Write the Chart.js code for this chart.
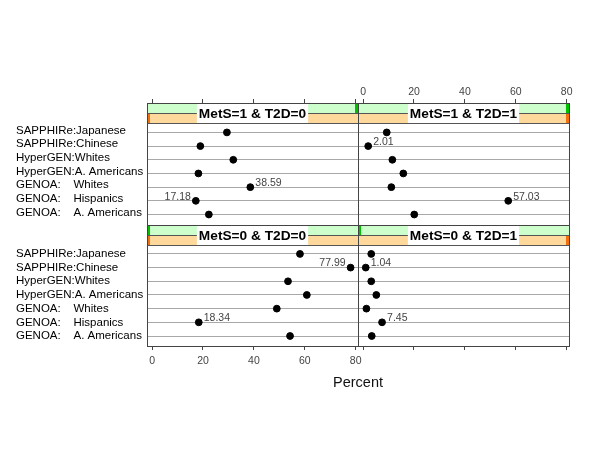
<!DOCTYPE html>
<html>
<head>
<meta charset="utf-8">
<title>MetS / T2D by cohort</title>
<script src="https://cdn.jsdelivr.net/npm/chart.js@4.4.1/dist/chart.umd.min.js"></script>
<style>
  html, body { margin: 0; padding: 0; background: #fff; }
</style>
</head>
<body>
<canvas id="dotplot" width="600" height="450"></canvas>
<script>
// Row labels, top to bottom
const groups = [
    'SAPPHIRe:Japanese',
    'SAPPHIRe:Chinese',
    'HyperGEN:Whites',
    'HyperGEN:A. Americans',
    'GENOA:    Whites',
    'GENOA:    Hispanics',
    'GENOA:    A. Americans'
];

// Percent in each panel, same row order as above
const metS1T2D0 = [29.4, 18.96, 31.9, 18.2, 38.59, 17.18, 22.3];
const metS1T2D1 = [9.3, 2.01, 11.5, 15.8, 11.1, 57.03, 20.1];
const metS0T2D0 = [58.1, 77.99, 53.4, 60.8, 49.0, 18.34, 54.2];
const metS0T2D1 = [3.2, 1.04, 3.2, 5.2, 1.31, 7.45, 3.4];

const xTicks = [0, 20, 40, 60, 80];

// panel order: top-left, top-right, bottom-left, bottom-right
const panelMetS = [1, 1, 0, 0];
const panelT2D = [0, 1, 0, 1];
const panelValues = [metS1T2D0, metS1T2D1, metS0T2D0, metS0T2D1];

// points that get their value printed: [panel, row, side]
const labelled = [
    [0, 4, 'right'], [0, 5, 'left'],
    [1, 1, 'right'], [1, 5, 'right'],
    [2, 1, 'left'], [2, 5, 'right'],
    [3, 1, 'right'], [3, 5, 'right']
];

const FONT = 'Arial, "Liberation Sans", sans-serif';

function xAxis(position, showLabels) {
    return {
        type: 'linear',
        position: position,
        stack: position,
        stackWeight: 1,
        min: -2,
        max: 80.9,
        afterBuildTicks: s => { s.ticks = xTicks.map(v => ({ value: v })); },
        afterFit: s => { s.height = position === 'top' ? 43 : 54; },
        grid: { drawOnChartArea: false, drawTicks: true, tickLength: 4, color: '#444' },
        border: { display: false },
        ticks: {
            padding: position === 'top' ? 1 : 5,
            maxRotation: 0,
            autoSkip: false,
            color: '#444',
            font: { family: FONT, size: 10.5 },
            callback: v => showLabels ? v : ''
        }
    };
}

function yAxis(shift) {
    return {
        type: 'linear',
        position: 'left',
        stack: 'rows',
        stackWeight: 1,
        min: 0.27,
        max: 9.15,
        afterBuildTicks: s => { s.ticks = groups.map((g, i) => ({ value: groups.length - i })); },
        afterFit: s => { s.width = 131; },
        grid: { color: '#a8a8a8', drawTicks: false },
        border: { display: false },
        ticks: {
            autoSkip: false,
            crossAlign: 'far',
            labelOffset: shift,
            color: '#000',
            font: { family: FONT, size: 11.5 },
            callback: v => groups[groups.length - v]
        }
    };
}

function panelScales(chart, p) {
    return {
        xs: chart.scales[p % 2 ? 'xR' : 'xL'],
        ys: chart.scales[p < 2 ? 'yT' : 'yB']
    };
}

// strips, panel frames, value labels and the axis title
const panelPlugin = {
    id: 'panels',
    afterDatasetsDraw(chart) {
        const ctx = chart.ctx;
        ctx.save();
        for (let p = 0; p < 4; p++) {
            const { xs, ys } = panelScales(chart, p);
            const left = Math.round(xs.left), right = Math.round(xs.right);
            const top = Math.round(ys.top), bottom = Math.round(ys.bottom);
            const w = right - left;

            // strip: MetS layer on top, T2D layer below
            ctx.fillStyle = '#ccffcc';
            ctx.fillRect(left, top, w, 10);
            ctx.fillStyle = '#ffd89c';
            ctx.fillRect(left, top + 10, w, 10);
            ctx.fillStyle = '#00c000';
            ctx.fillRect(panelMetS[p] ? right - 3 : left, top, 3, 10);
            ctx.fillStyle = '#f07010';
            ctx.fillRect(panelT2D[p] ? right - 3 : left, top + 10, 3, 10);

            ctx.strokeStyle = '#555';
            ctx.lineWidth = 1;
            ctx.beginPath();
            ctx.moveTo(left, top + 10.5); ctx.lineTo(right, top + 10.5);
            ctx.moveTo(left, top + 20.5); ctx.lineTo(right, top + 20.5);
            ctx.stroke();

            const text = 'MetS=' + panelMetS[p] + ' & T2D=' + panelT2D[p];
            ctx.font = 'bold 13.7px ' + FONT;
            const tw = ctx.measureText(text).width;
            const cx = (left + right) / 2;
            ctx.fillStyle = '#fff';
            ctx.fillRect(cx - tw / 2 - 2, top + 0.5, tw + 4, 19.5);
            ctx.fillStyle = '#000';
            ctx.textAlign = 'center';
            ctx.textBaseline = 'middle';
            ctx.fillText(text, cx, top + 11);

            // frame
            ctx.strokeStyle = '#444';
            ctx.strokeRect(left + 0.5, top + 0.5, w, bottom - top);
        }

        // value labels beside selected dots
        ctx.font = '10.5px ' + FONT;
        ctx.fillStyle = '#444';
        ctx.textBaseline = 'middle';
        labelled.forEach(([p, r, side]) => {
            const { xs, ys } = panelScales(chart, p);
            const v = panelValues[p][r];
            const px = xs.getPixelForValue(v);
            const py = ys.getPixelForValue(groups.length - r);
            ctx.textAlign = side === 'left' ? 'right' : 'left';
            ctx.fillText(v.toFixed(2), side === 'left' ? px - 5 : px + 5, py - 4);
        });

        // axis title
        ctx.font = '14.5px ' + FONT;
        ctx.fillStyle = '#111';
        ctx.textAlign = 'center';
        ctx.fillText('Percent', (chart.scales.xL.left + chart.scales.xR.right) / 2, 383);
        ctx.restore();
    }
};

const datasets = panelValues.map((values, p) => ({
    label: 'MetS=' + panelMetS[p] + ' & T2D=' + panelT2D[p],
    data: values.map((v, r) => ({ x: v, y: groups.length - r })),
    xAxisID: p % 2 ? 'xR' : 'xL',
    yAxisID: p < 2 ? 'yT' : 'yB',
    pointRadius: 3.4,
    pointBackgroundColor: '#000',
    pointBorderColor: '#000',
    showLine: false
}));

// left and top boxes are laid out in reverse order, so they are listed
// right-to-left / bottom-to-top here
new Chart(document.getElementById('dotplot'), {
    type: 'scatter',
    data: { datasets: datasets },
    options: {
        responsive: false,
        animation: false,
        devicePixelRatio: 1,
        layout: { padding: { left: 16, right: 31, top: 60, bottom: 50 } },
        plugins: { legend: { display: false }, tooltip: { enabled: false } },
        scales: {
            xL: xAxis('bottom', true),
            xR: xAxis('bottom', false),
            xRT: xAxis('top', true),
            xLT: xAxis('top', false),
            yB: yAxis(0),
            yT: yAxis(-2)
        }
    },
    plugins: [panelPlugin]
});
</script>
</body>
</html>
